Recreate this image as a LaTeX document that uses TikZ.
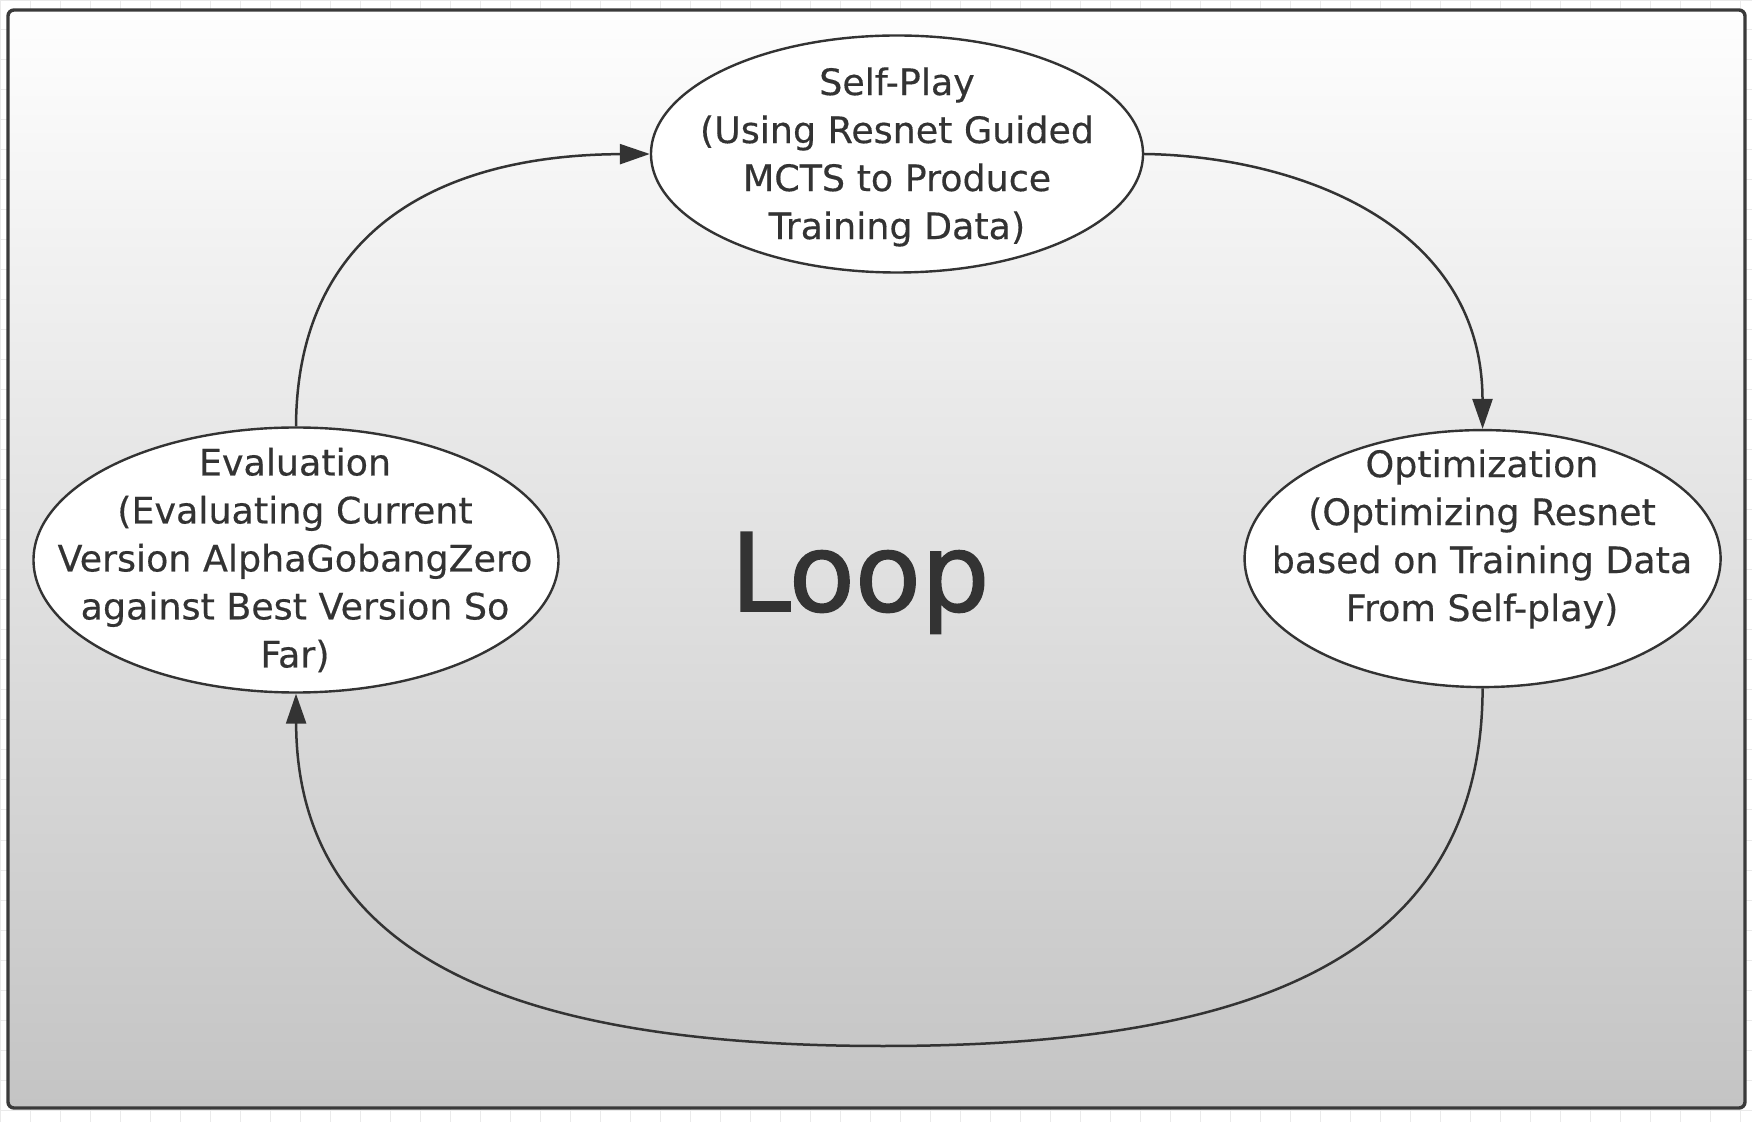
\documentclass[tikz,border=0pt]{standalone}
\usepackage{fontspec}
\setmainfont[FakeBold=0.4]{DejaVu Sans}
\newfontfamily\loopfont[FakeBold=1.5]{DejaVu Sans}
\usetikzlibrary{shapes.geometric,arrows.meta}
\definecolor{ink}{HTML}{333333}
\definecolor{frameink}{HTML}{3A3A3A}
\definecolor{gridc}{HTML}{EAEAEA}
\definecolor{shadetop}{HTML}{FEFEFE}
\definecolor{shadebot}{HTML}{C4C4C4}
\begin{document}
\begin{tikzpicture}[x=0.5pt,y=-0.5pt,
  stage/.style={ellipse,draw=ink,line width=1.2pt,fill=white,inner sep=0pt},
  txt/.style={text=ink,align=center,font=\fontsize{18.2}{24}\selectfont,inner sep=0pt},
  flow/.style={draw=ink,line width=1.25pt,-{Triangle[length=15pt,width=10pt]}}]
\useasboundingbox (0,0) rectangle (1752,1122);
\fill[white] (0,0) rectangle (1752,1122);
\draw[gridc,line width=0.5pt,step=15pt] (0,0) grid (1752,1122);
\draw[frameink,line width=1.7pt,rounded corners=3pt,top color=shadetop,bottom color=shadebot]
  (8,10) rectangle (1745,1108);

\node[stage,minimum width=246pt,minimum height=118.5pt] (self) at (897,154) {};
\node[txt] (selft) at (897,157) {Self-Play\\(Using Resnet Guided\\MCTS to Produce\\Training Data)};

\node[stage,minimum width=262.5pt,minimum height=132.5pt] (eval) at (296,560) {};
\node[txt] (evalt) at (295,560) {Evaluation\\(Evaluating Current\\Version AlphaGobangZero\\against Best Version So\\Far)};

\node[stage,minimum width=238pt,minimum height=128.5pt] (opt) at (1482.6,558.6) {};
\node[txt] (optt) at (1482,539) {Optimization\\(Optimizing Resnet\\based on Training Data\\From Self-play)};

\node[text=ink,font=\loopfont\fontsize{54}{60}\selectfont,inner sep=0pt,anchor=base] (loop) at (860,611) {Loop};

\coordinate (low) at (883,1046);
\draw[flow] (eval.north) .. controls (297,230) and (440,155) .. (self.west);
\draw[flow] (self.east) .. controls (1290,156) and (1482,220) .. (opt.north);
\draw[flow] (opt.south) .. controls (1482,960) and (1250,1046) .. (low)
  .. controls (520,1046) and (297,960) .. (eval.south);
\end{tikzpicture}
\end{document}
